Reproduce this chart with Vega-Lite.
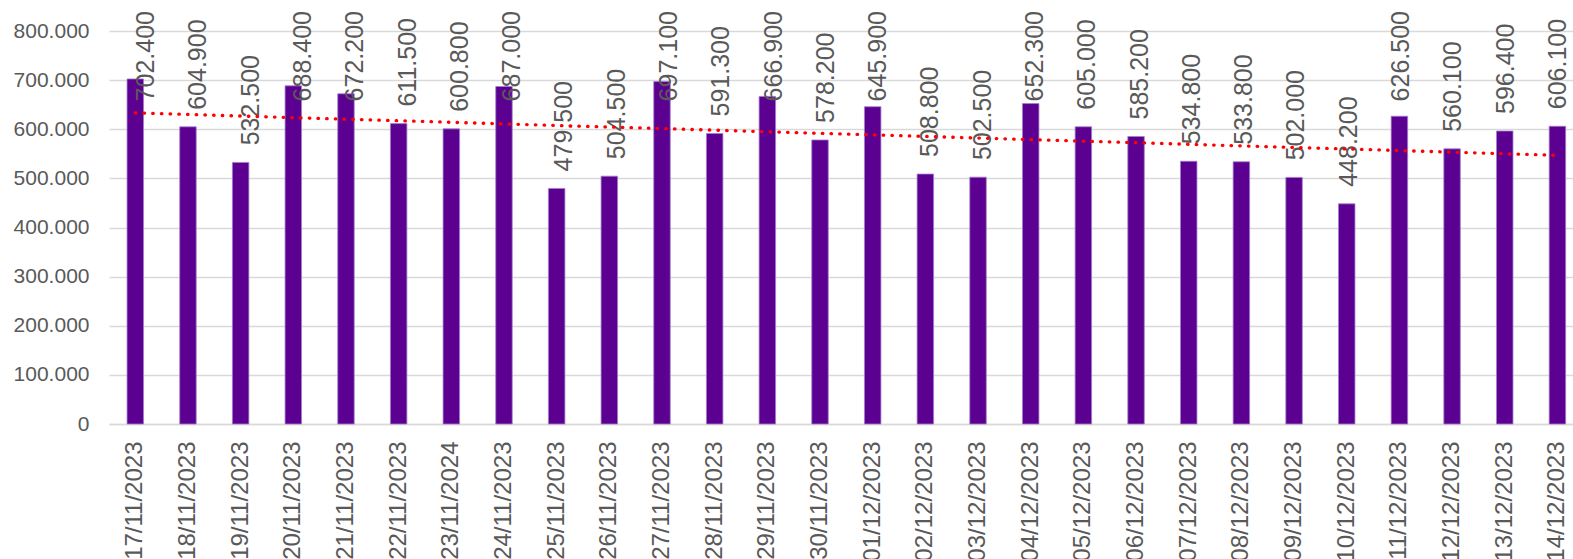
{
  "$schema": "https://vega.github.io/schema/vega-lite/v6.json",
  "autosize": "none",
  "width": 1464,
  "height": 393,
  "padding": {"left": 109, "top": 31, "right": 0, "bottom": 135},
  "background": "white",
  "config": {
    "view": {"stroke": null},
    "locale": {"number": {"decimal": ",", "thousands": ".", "grouping": [3], "currency": ["", " €"]}},
    "axis": {"labelFont": "Liberation Sans", "labelColor": "#595959", "title": null}
  },
  "data": {
    "values": [
      {"date": "17/11/2023", "day": 1, "value": 702400},
      {"date": "18/11/2023", "day": 2, "value": 604900},
      {"date": "19/11/2023", "day": 3, "value": 532500},
      {"date": "20/11/2023", "day": 4, "value": 688400},
      {"date": "21/11/2023", "day": 5, "value": 672200},
      {"date": "22/11/2023", "day": 6, "value": 611500},
      {"date": "23/11/2024", "day": 7, "value": 600800},
      {"date": "24/11/2023", "day": 8, "value": 687000},
      {"date": "25/11/2023", "day": 9, "value": 479500},
      {"date": "26/11/2023", "day": 10, "value": 504500},
      {"date": "27/11/2023", "day": 11, "value": 697100},
      {"date": "28/11/2023", "day": 12, "value": 591300},
      {"date": "29/11/2023", "day": 13, "value": 666900},
      {"date": "30/11/2023", "day": 14, "value": 578200},
      {"date": "01/12/2023", "day": 15, "value": 645900},
      {"date": "02/12/2023", "day": 16, "value": 508800},
      {"date": "03/12/2023", "day": 17, "value": 502500},
      {"date": "04/12/2023", "day": 18, "value": 652300},
      {"date": "05/12/2023", "day": 19, "value": 605000},
      {"date": "06/12/2023", "day": 20, "value": 585200},
      {"date": "07/12/2023", "day": 21, "value": 534800},
      {"date": "08/12/2023", "day": 22, "value": 533800},
      {"date": "09/12/2023", "day": 23, "value": 502000},
      {"date": "10/12/2023", "day": 24, "value": 448200},
      {"date": "11/12/2023", "day": 25, "value": 626500},
      {"date": "12/12/2023", "day": 26, "value": 560100},
      {"date": "13/12/2023", "day": 27, "value": 596400},
      {"date": "14/12/2023", "day": 28, "value": 606100}
    ]
  },
  "resolve": {"scale": {"x": "independent", "y": "independent"}},
  "layer": [
    {
      "mark": {"type": "bar", "color": "#5B0090", "stroke": "#a27fcc", "strokeWidth": 0.8},
      "encoding": {
        "x": {
          "field": "date", "type": "nominal", "sort": null,
          "scale": {"paddingInner": 0.687, "paddingOuter": 0.241, "align": 0.711},
          "axis": {"labelAngle": 270, "labelAlign": "right", "labelBaseline": "middle", "labelFontSize": 24, "labelPadding": 17, "ticks": false, "domain": true, "domainColor": "#d9d9d9", "domainWidth": 1.5, "labelOverlap": false, "labelLimit": 0}
        },
        "y": {
          "field": "value", "type": "quantitative",
          "scale": {"domain": [0, 800000], "nice": false},
          "axis": {"values": [0, 100000, 200000, 300000, 400000, 500000, 600000, 700000, 800000], "format": ",.0f", "labelFontSize": 21, "labelPadding": 20, "ticks": false, "domain": false, "grid": true, "gridColor": "#d9d9d9", "gridWidth": 1.5}
        }
      }
    },
    {
      "mark": {"type": "text", "angle": 270, "align": "left", "baseline": "middle", "dx": 17, "font": "Liberation Sans", "fontSize": 25, "color": "#595959"},
      "encoding": {
        "x": {
          "field": "date", "type": "nominal", "sort": null,
          "scale": {"paddingInner": 0.687, "paddingOuter": 0.241, "align": 0.711},
          "axis": null
        },
        "y": {
          "field": "value", "type": "quantitative",
          "scale": {"domain": [0, 622000], "range": [393, 87.4], "clamp": true, "nice": false, "zero": false},
          "axis": null
        },
        "text": {"field": "value", "type": "quantitative", "format": ",.0f"}
      }
    },
    {
      "transform": [{"regression": "value", "on": "day"}],
      "mark": {"type": "line", "color": "#FF0000", "strokeWidth": 3.3, "strokeCap": "round", "strokeDash": [0.5, 8.2]},
      "encoding": {
        "x": {"field": "day", "type": "quantitative", "scale": {"domain": [0.5, 28.3], "nice": false, "zero": false}, "axis": null},
        "y": {"field": "value", "type": "quantitative", "scale": {"domain": [0, 800000], "nice": false}, "axis": null}
      }
    }
  ]
}
